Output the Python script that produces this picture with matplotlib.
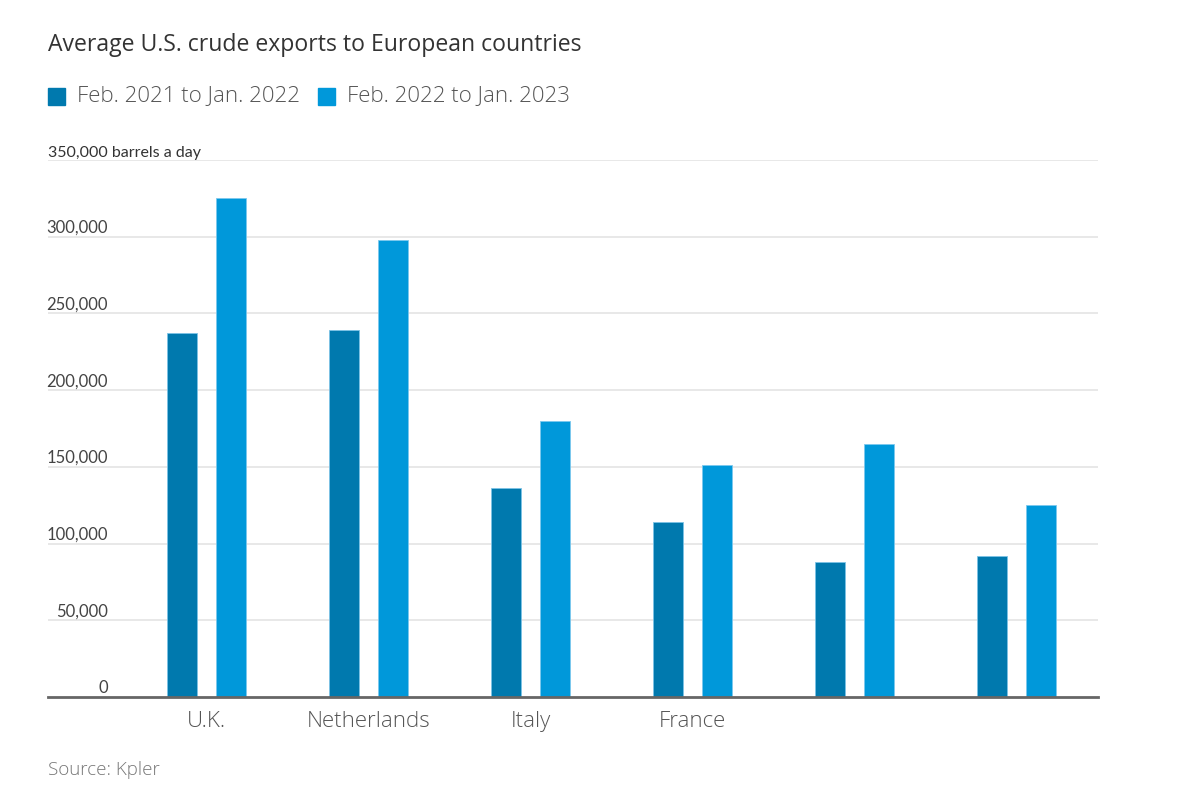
import matplotlib
matplotlib.use("Agg")
import matplotlib.pyplot as plt
import numpy as np

categories = ["U.K.", "Netherlands", "Italy", "France", "", ""]
series_2021 = [237000, 239000, 136000, 114000, 88000, 92000]
series_2022 = [325000, 298000, 180000, 151000, 165000, 125000]
legend_labels = ["Feb. 2021 to Jan. 2022", "Feb. 2022 to Jan. 2023"]
yticks = [0, 50000, 100000, 150000, 200000, 250000, 300000, 350000]
ytick_labels = ["0", "50,000", "100,000", "150,000", "200,000", "250,000", "300,000",
                "350,000 barrels a day"]
title = "Average U.S. crude exports to European countries"
source = "Source: Kpler"

dark = "#0079ae"
light = "#0098da"

W, H = 1204, 792
fig = plt.figure(figsize=(W / 100, H / 100), dpi=100)
ax = fig.add_axes([48 / W, 95 / H, (1098 - 48) / W, (697 - 160) / H])

x = np.arange(len(categories))
bw = 0.187
off = 0.151
ax.bar(x - off, series_2021, width=bw, color=dark, edgecolor="#7cc3e6", linewidth=0.6, zorder=3)
ax.bar(x + off, series_2022, width=bw, color=light, edgecolor="#7cc8ee", linewidth=0.6, zorder=3)

ax.set_xlim(-0.978, 5.503)
ax.set_ylim(0, 350000)
for s in ["top", "right", "left"]:
    ax.spines[s].set_visible(False)
ax.spines["bottom"].set_color("#666666")
ax.spines["bottom"].set_linewidth(2)
ax.spines["bottom"].set_zorder(4)

for v in yticks[1:]:
    ax.axhline(v, color="#e6e6e6", linewidth=1.3, zorder=1)

ax.set_yticks([])
ax.set_xticks(x)
ax.set_xticklabels(categories, fontsize=16, color="#555555",
                   family=["Open Sans", "DejaVu Sans"], fontweight="light")
ax.tick_params(axis="x", length=0, pad=10)

narrow = ["Lato", "DejaVu Sans"]
for v, lab in zip(yticks, ytick_labels):
    if v == 350000:
        ax.text(0, v + 2000, lab, transform=ax.get_yaxis_transform(), ha="left", va="baseline",
                fontsize=11.5, color="#333333", family=narrow)
    else:
        ax.text(60 / (1098 - 48), v + 2600, lab, transform=ax.get_yaxis_transform(),
                ha="right", va="baseline", fontsize=12, color="#444444", family=narrow)

fig.text(48 / W, 1 - 45 / H, title, ha="left", va="center", fontsize=16.6, color="#333333",
         family=["Open Sans", "DejaVu Sans"])

# legend
sq = 17
ly = 96
for lab, col, tx in [(legend_labels[0], dark, 48), (legend_labels[1], light, 318)]:
    fig.patches.append(plt.Rectangle((tx / W, 1 - (ly + sq / 2) / H), sq / W, sq / H,
                                     transform=fig.transFigure, color=col, figure=fig))
    fig.text((tx + 29) / W, 1 - ly / H, lab, ha="left", va="center", fontsize=16,
             color="#555555", family=["Open Sans", "DejaVu Sans"], fontweight="light")

fig.text(48 / W, 1 - 770 / H, source, ha="left", va="center", fontsize=13.5, color="#777777",
         family=["Open Sans", "DejaVu Sans"], fontweight="light")

fig.savefig("out.png", dpi=100, facecolor="white")
